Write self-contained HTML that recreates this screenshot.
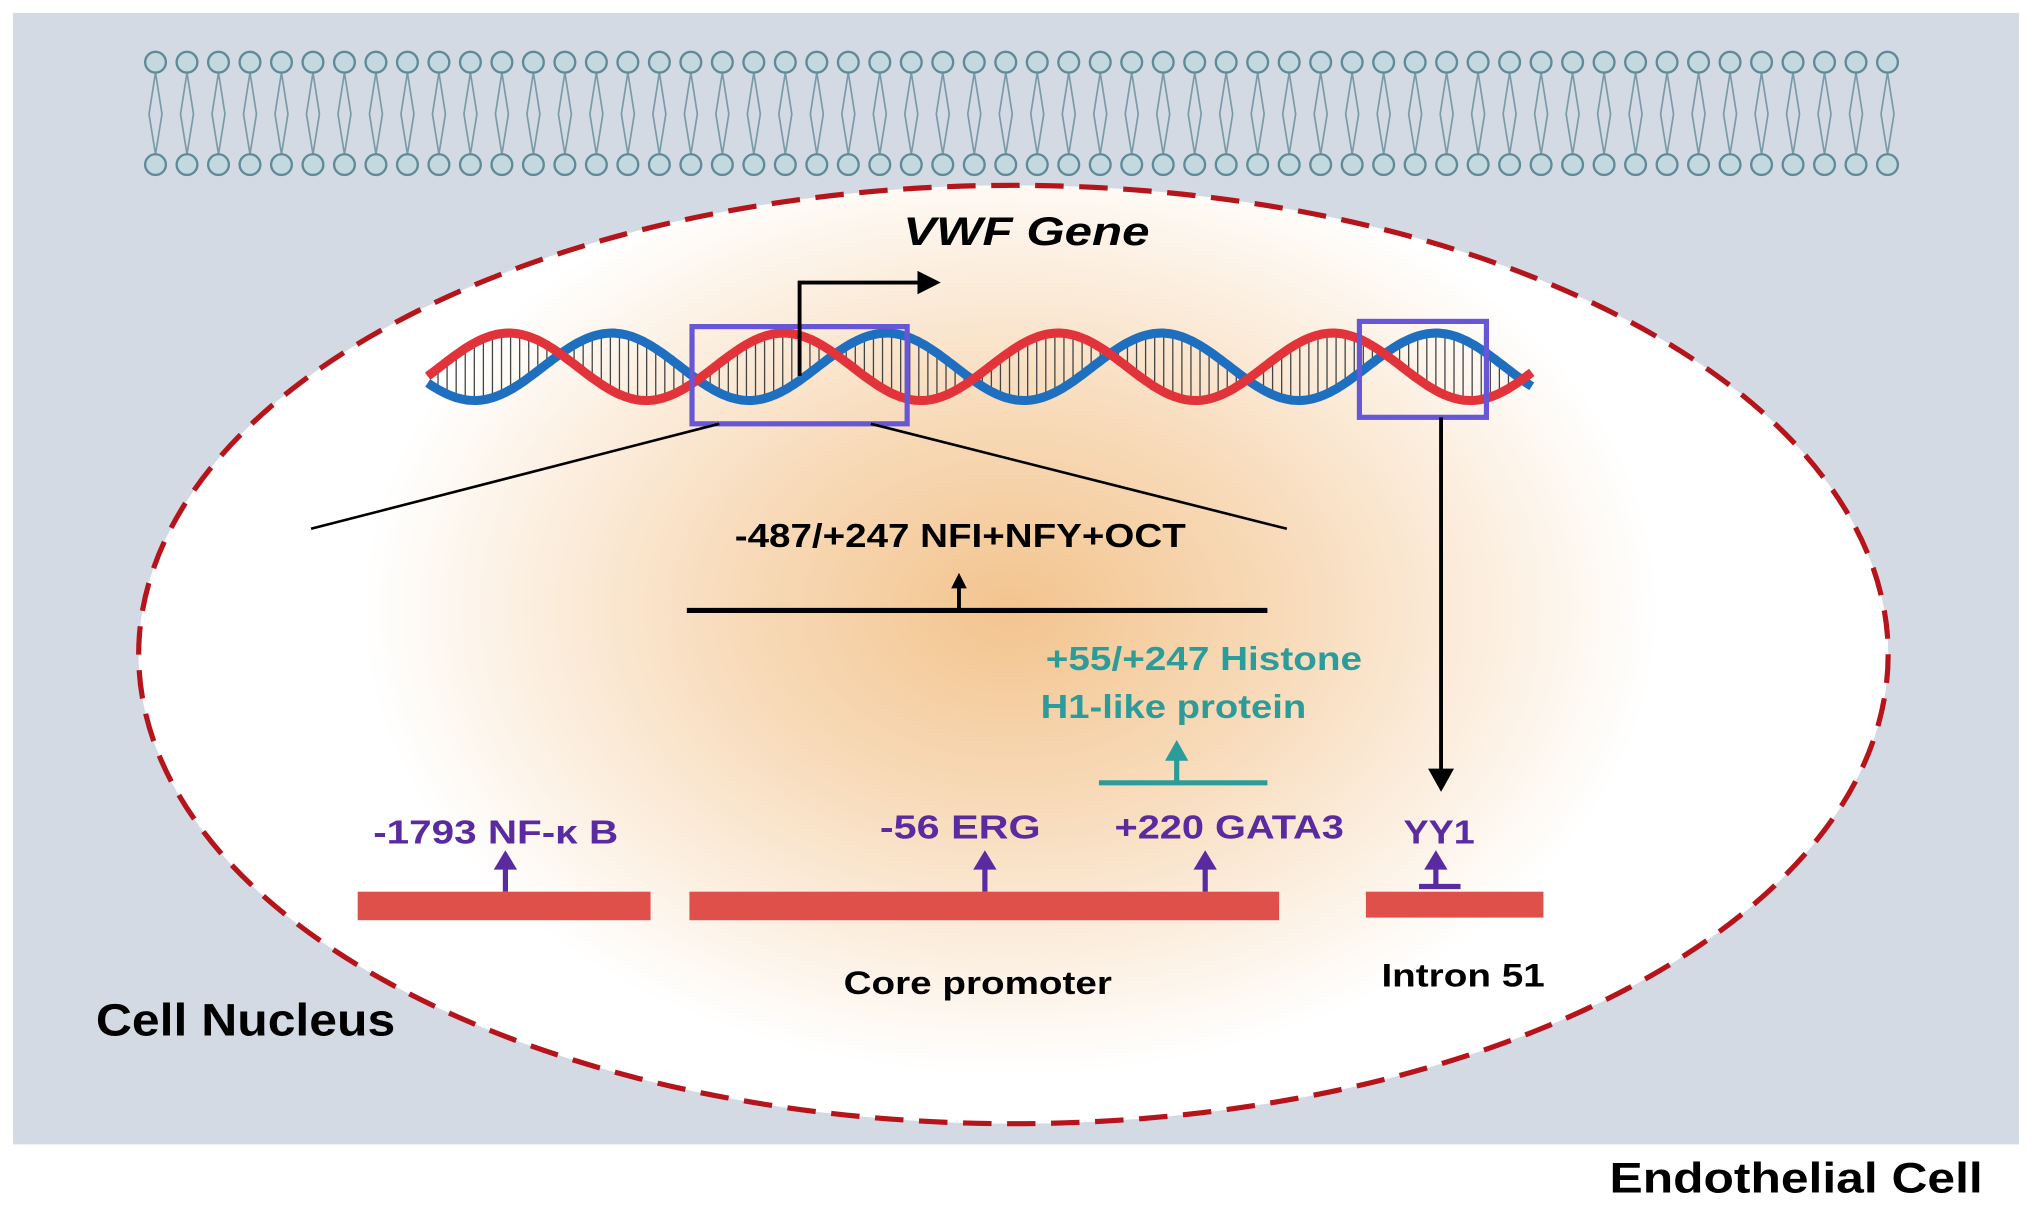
<!DOCTYPE html>
<html><head><meta charset="utf-8"><style>
html,body{margin:0;padding:0;background:#fff;}
svg{display:block;}
text{font-family:"Liberation Sans",Arial,sans-serif;font-weight:bold;}
</style></head><body>
<svg width="2032" height="1217" viewBox="0 0 1568 939" preserveAspectRatio="none" xmlns="http://www.w3.org/2000/svg">
<defs>
<radialGradient id="g" cx="780" cy="470" r="500" gradientUnits="userSpaceOnUse" gradientTransform="translate(780 470) scale(1 0.72) translate(-780 -470)">
<stop offset="0" stop-color="#f3c48e"/><stop offset="0.45" stop-color="#f8dcbc"/><stop offset="1" stop-color="#ffffff"/>
</radialGradient>
</defs>
<rect x="0" y="0" width="1568" height="939" fill="#fff"/>
<rect x="10" y="10" width="1548" height="873" fill="#d3dae4"/>
<g id="mem" stroke="#7a9aa8" stroke-width="1.3" fill="none"></g>
<g id="balls"></g>
<ellipse cx="782" cy="505" rx="675" ry="362" fill="#fff"/>
<ellipse cx="782" cy="505" rx="675" ry="362" fill="url(#g)"/>
<ellipse cx="782" cy="505" rx="675" ry="362" fill="none" stroke="#b5141b" stroke-width="4" stroke-dasharray="22 12"/>
<text x="697" y="189" font-size="31" font-style="italic" textLength="190" lengthAdjust="spacingAndGlyphs">VWF Gene</text>
<g id="dna"></g>
<rect x="534" y="252" width="166" height="75" fill="none" stroke="#6757d6" stroke-width="4"/>
<rect x="1049" y="248" width="98" height="74" fill="none" stroke="#6757d6" stroke-width="4"/>
<path d="M617 290 L617 218 L712 218" fill="none" stroke="#000" stroke-width="3"/>
<path d="M726 218 L708 209 L708 227 z" fill="#000"/>
<line x1="555" y1="327" x2="240" y2="408" stroke="#000" stroke-width="2"/>
<line x1="672" y1="327" x2="993" y2="408" stroke="#000" stroke-width="2"/>
<text x="567" y="422" font-size="26" textLength="348" lengthAdjust="spacingAndGlyphs">-487/+247 NFI+NFY+OCT</text>
<line x1="530" y1="471" x2="978" y2="471" stroke="#000" stroke-width="4"/>
<line x1="740" y1="471" x2="740" y2="452" stroke="#000" stroke-width="3"/>
<path d="M740 442 L734 454 L746 454 z" fill="#000"/>
<g fill="#2b9c99" font-size="26">
<text x="807" y="517" textLength="244" lengthAdjust="spacingAndGlyphs">+55/+247 Histone</text>
<text x="803" y="554" textLength="205" lengthAdjust="spacingAndGlyphs">H1-like protein</text>
</g>
<line x1="848" y1="604" x2="978" y2="604" stroke="#2b9c99" stroke-width="4"/>
<line x1="908" y1="604" x2="908" y2="584" stroke="#2b9c99" stroke-width="4"/>
<path d="M908 571 L899 587 L917 587 z" fill="#2b9c99"/>
<line x1="1112" y1="322" x2="1112" y2="596" stroke="#000" stroke-width="3"/>
<path d="M1112 611 L1102 593 L1122 593 z" fill="#000"/>
<g fill="#5a2aa0" font-size="26">
<text x="288" y="651" textLength="189" lengthAdjust="spacingAndGlyphs">-1793  NF-κ B</text>
<text x="679" y="647" textLength="124" lengthAdjust="spacingAndGlyphs">-56  ERG</text>
<text x="860" y="647" textLength="177" lengthAdjust="spacingAndGlyphs">+220 GATA3</text>
<text x="1083" y="651" textLength="55" lengthAdjust="spacingAndGlyphs">YY1</text>
</g>
<g fill="#e0504a">
<rect x="276" y="688" width="226" height="22"/>
<rect x="532" y="688" width="455" height="22"/>
<rect x="1054" y="688" width="137" height="20"/>
</g>
<g stroke="#5a2aa0" stroke-width="4" fill="#5a2aa0">
<line x1="390" y1="688" x2="390" y2="668"/><path d="M390 656 L381 671 L399 671 z" stroke="none"/>
<line x1="760" y1="688" x2="760" y2="668"/><path d="M760 656 L751 671 L769 671 z" stroke="none"/>
<line x1="930" y1="688" x2="930" y2="668"/><path d="M930 656 L921 671 L939 671 z" stroke="none"/>
<line x1="1095" y1="684" x2="1127" y2="684"/><line x1="1108" y1="684" x2="1108" y2="668"/><path d="M1108 656 L1099 671 L1117 671 z" stroke="none"/>
</g>
<text x="651" y="767" font-size="25" textLength="207" lengthAdjust="spacingAndGlyphs">Core promoter</text>
<text x="1066" y="761" font-size="25" textLength="126" lengthAdjust="spacingAndGlyphs">Intron 51</text>
<text x="74" y="799" font-size="35" textLength="231" lengthAdjust="spacingAndGlyphs">Cell Nucleus</text>
<text x="1242" y="920" font-size="33" textLength="288" lengthAdjust="spacingAndGlyphs">Endothelial Cell</text>
</svg>
<script>
(function(){
var mem=document.getElementById("mem");
var balls=document.getElementById("balls");
var s="",b="";
var x0=120,dx=24.3,n=56;
for(var i=0;i<n;i++){var x=x0+i*dx;
 s+="M"+x+" 56 L"+(x-5)+" 88 L"+x+" 119 M"+x+" 56 L"+(x+5)+" 88 L"+x+" 119 ";
 b+='<circle cx="'+x+'" cy="48" r="8" fill="#c3d8df" stroke="#5f8a98" stroke-width="1.8"/>';
 b+='<circle cx="'+x+'" cy="127" r="8" fill="#c3d8df" stroke="#5f8a98" stroke-width="1.8"/>';
}
mem.innerHTML='<path d="'+s+'"/>';
balls.innerHTML=b;
var dna=document.getElementById("dna");
var x1=330,x2=1182,cy=283,A=26,P=212,ph=0.5;
function y(x,o){return cy+A*Math.sin((x-x1)/P*2*Math.PI+o);}
var out="";
for(var x=x1+8;x<x2-8;x+=7){
 var a=y(x,ph),c=y(x,ph+Math.PI*0.75);
 out+='<line x1="'+x+'" y1="'+a+'" x2="'+x+'" y2="'+c+'" stroke="#444" stroke-width="1"/>';
}
function path(o){var d="";for(var x=x1;x<=x2;x+=2){d+=(x==x1?"M":"L")+x+" "+y(x,o).toFixed(1)+" ";}return d;}
out+='<path d="'+path(ph)+'" fill="none" stroke="#1f6fc0" stroke-width="7"/>';
out+='<path d="'+path(ph+Math.PI*0.75)+'" fill="none" stroke="#e2333a" stroke-width="7"/>';
dna.innerHTML=out;
})();
</script>
</body></html>
